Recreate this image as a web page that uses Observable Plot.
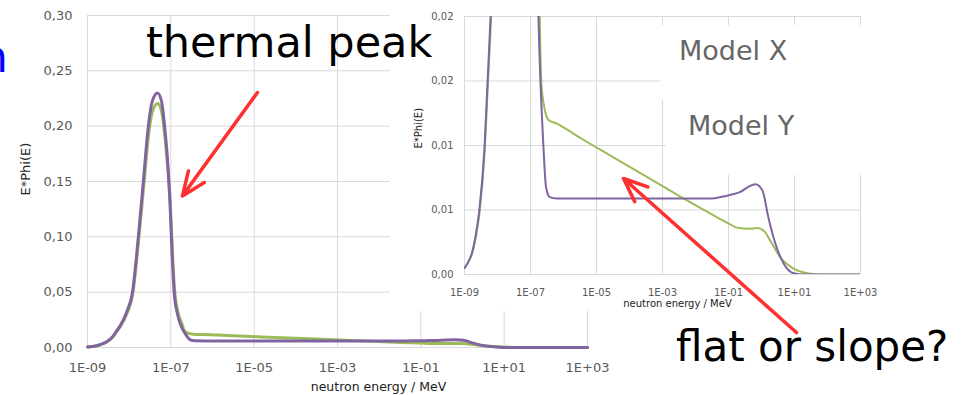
<!DOCTYPE html>
<html>
<head>
<meta charset="utf-8">
<script src="https://cdn.jsdelivr.net/npm/d3@7"></script>
<script src="https://cdn.jsdelivr.net/npm/@observablehq/plot@0.6"></script>
<style>
  html, body { margin: 0; padding: 0; background: #fff; }
  #wrap { position: relative; width: 963px; height: 395px; overflow: hidden; font-family: "DejaVu Sans", sans-serif; background: #fff; }
  #wrap > * { position: absolute; }
  #wrap svg { max-width: none; }
</style>
</head>
<body>
<div id="wrap"></div>
<script>
// ---- axis ticks and labels ----
const xTicks = [1e-9, 1e-7, 1e-5, 1e-3, 1e-1, 1e1, 1e3];
const xTickLabels = ["1E-09", "1E-07", "1E-05", "1E-03", "1E-01", "1E+01", "1E+03"];
const mainYTicks = [0, 0.05, 0.10, 0.15, 0.20, 0.25, 0.30];
const mainYTickLabels = ["0,00", "0,05", "0,10", "0,15", "0,20", "0,25", "0,30"];
const insetYTicks = [0, 0.005, 0.01, 0.015, 0.02];
const insetYTickLabels = ["0,00", "0,01", "0,01", "0,02", "0,02"];
const xTitle = "neutron energy / MeV";
const yTitle = "E*Phi(E)";

// ---- series: log10(energy / MeV) and E*Phi(E) ----
const greenLogE = [-9.0,-8.9,-8.76,-8.65,-8.55,-8.39,-8.30,-8.21,-8.05,-7.92,-7.78,-7.66,-7.54,-7.45,-7.32,-7.22,-7.15,-7.08,-7.01,-6.96,-6.91,-6.83,-6.72,-6.68,-6.6,-6.52,-6.46,-6.2,-5.5,-4.5,-3.5,-2.5,-1.6,-1.03,-0.7,-0.4,-0.12,0.1,0.27,0.58,0.97,1.39,1.8,3.0];
const greenVal  = [0.0005,0.0009,0.0017,0.003,0.0047,0.0095,0.0143,0.019,0.031,0.047,0.094,0.142,0.190,0.212,0.2205,0.213,0.193,0.165,0.128,0.085,0.052,0.032,0.020,0.0152,0.0132,0.0123,0.0120,0.0117,0.0106,0.0091,0.0076,0.0061,0.0048,0.0040,0.0036,0.00355,0.0036,0.0033,0.0026,0.0013,0.00046,0.0001,0,0];
const purpleLogE = [-9.0,-8.9,-8.76,-8.65,-8.55,-8.39,-8.30,-8.21,-8.05,-7.92,-7.78,-7.66,-7.54,-7.45,-7.32,-7.22,-7.15,-7.08,-7.02,-6.97,-6.92,-6.84,-6.76,-6.61,-6.53,-6.42,-6.2,-4.0,-2.0,-1.5,-1.24,-0.9,-0.64,-0.4,-0.18,0.03,0.21,0.42,0.67,0.97,1.3,3.0];
const purpleVal  = [0.0005,0.0009,0.0018,0.0032,0.005,0.010,0.015,0.020,0.033,0.050,0.100,0.150,0.200,0.222,0.230,0.222,0.200,0.170,0.130,0.085,0.050,0.030,0.020,0.010,0.0068,0.0060,0.0059,0.0059,0.0059,0.0059,0.0060,0.0062,0.0064,0.0068,0.0070,0.0065,0.0044,0.0024,0.00085,0.0001,0,0];

// ---- annotations ----
const annotationTexts = ["thermal peak", "flat or slope?", "Model X", "Model Y", "n"];
const thermalArrow = [{x1: 1.2e-5, y1: 0.2304, x2: 1.9e-7, y2: 0.137}];
const slopeArrow = [{x1: 11.5, y1: -0.0045, x2: 6.6e-5, y2: 0.00744}];

// ---- build tables ----
const green = greenLogE.map((e, i) => ({E: Math.pow(10, e), v: greenVal[i]}));
const purple = purpleLogE.map((e, i) => ({E: Math.pow(10, e), v: purpleVal[i]}));
const xLab = new Map(xTicks.map((t, i) => [t, xTickLabels[i]]));
const mainYLab = new Map(mainYTicks.map((t, i) => [t, mainYTickLabels[i]]));
const insetYLab = new Map(insetYTicks.map((t, i) => [t, insetYTickLabels[i]]));

const GREEN = "#9bbb59", PURPLE = "#8064a2", GRID = "#d9d9d9", TICK = "#595959", RED = "#ff3030";
const wrap = document.getElementById("wrap");

// ---- main chart ----
const main = Plot.plot({
  width: 963, height: 395,
  marginLeft: 87, marginRight: 376, marginTop: 15, marginBottom: 48,
  x: {type: "log", domain: [1e-9, 1e3]},
  y: {domain: [0, 0.30]},
  style: {fontFamily: "DejaVu Sans", fontSize: "13px", color: TICK, background: "transparent", overflow: "visible"},
  marks: [
    Plot.gridY(mainYTicks, {stroke: GRID, strokeOpacity: 1, strokeWidth: 1}),
    Plot.gridX(xTicks, {stroke: GRID, strokeOpacity: 1, strokeWidth: 1}),
    Plot.axisY(mainYTicks, {tickSize: 0, tickPadding: 15, tickFormat: d => mainYLab.get(d), label: null, fill: TICK, fontSize: 13}),
    Plot.axisX(xTicks, {tickSize: 0, tickPadding: 15, tickFormat: d => xLab.get(d), label: null, fill: TICK, fontSize: 13}),
    Plot.line(green, {x: "E", y: "v", stroke: GREEN, strokeWidth: 3, curve: "monotone-x"}),
    Plot.line(purple, {x: "E", y: "v", stroke: PURPLE, strokeWidth: 3, curve: "monotone-x"}),
    Plot.text([yTitle], {text: d => d, frameAnchor: "left", rotate: -90, dx: -62, dy: 14, fontSize: 13, fill: "#222"}),
    Plot.text([xTitle], {text: d => d, frameAnchor: "bottom", lineAnchor: "middle", dx: 41, dy: 39, fontSize: 12.5, fill: "#222"}),
    Plot.arrow(thermalArrow, {x1: "x1", y1: "y1", x2: "x2", y2: "y2", stroke: RED, strokeWidth: 3.5, headLength: 11, headAngle: 45})
  ]
});
main.style.left = "0px"; main.style.top = "0px"; main.style.background = "transparent";
wrap.appendChild(main);

// ---- inset white backing ----
const back = document.createElement("div");
Object.assign(back.style, {left: "390px", top: "0px", width: "485px", height: "311px", background: "#fff"});
wrap.appendChild(back);

// ---- inset chart ----
const inset = Plot.plot({
  width: 573, height: 395,
  marginLeft: 74, marginRight: 103, marginTop: 16, marginBottom: 121,
  x: {type: "log", domain: [1e-9, 1e3]},
  y: {domain: [0, 0.02]},
  style: {fontFamily: "DejaVu Sans", fontSize: "10px", color: TICK, background: "transparent", overflow: "visible"},
  marks: [
    Plot.gridY(insetYTicks, {stroke: GRID, strokeOpacity: 1, strokeWidth: 1}),
    Plot.gridX(xTicks, {stroke: GRID, strokeOpacity: 1, strokeWidth: 1}),
    Plot.axisY(insetYTicks, {tickSize: 0, tickPadding: 11, tickFormat: d => insetYLab.get(d), label: null, fill: TICK, fontSize: 10}),
    Plot.axisX(xTicks, {tickSize: 0, tickPadding: 14, tickFormat: d => xLab.get(d), label: null, fill: TICK, fontSize: 10}),
    Plot.line(green, {x: "E", y: "v", stroke: GREEN, strokeWidth: 2, curve: "monotone-x", clip: true}),
    Plot.line(purple, {x: "E", y: "v", stroke: PURPLE, strokeWidth: 2, curve: "monotone-x", clip: true}),
    Plot.text([yTitle], {text: d => d, frameAnchor: "left", rotate: -90, dx: -46, dy: 3, fontSize: 10, fill: "#222"}),
    Plot.text([xTitle], {text: d => d, frameAnchor: "bottom", lineAnchor: "middle", dx: 15, dy: 29, fontSize: 10, fill: "#222"}),
    Plot.arrow(slopeArrow, {x1: "x1", y1: "y1", x2: "x2", y2: "y2", stroke: RED, strokeWidth: 3.5, headLength: 11, headAngle: 45})
  ]
});
inset.style.left = "390px"; inset.style.top = "0px"; inset.style.background = "transparent";
wrap.appendChild(inset);

// ---- label boxes (white) ----
[[660, 25, 212, 75], [666, 100, 206, 75]].forEach(([l, t, w, h]) => {
  const b = document.createElement("div");
  Object.assign(b.style, {left: l + "px", top: t + "px", width: w + "px", height: h + "px", background: "#fff"});
  wrap.appendChild(b);
});

// ---- text overlay ----
const ov = d3.select(wrap).append("svg")
  .attr("width", 963).attr("height", 395)
  .style("left", "0px").style("top", "0px").style("pointer-events", "none")
  .style("font-family", "'DejaVu Sans', sans-serif");
const textSpecs = [
  {t: annotationTexts[0], x: 146, y: 57, size: 43, fill: "#000"},
  {t: annotationTexts[1], x: 676, y: 361, size: 42, fill: "#000"},
  {t: annotationTexts[2], x: 679, y: 60, size: 27, fill: "#666"},
  {t: annotationTexts[3], x: 688, y: 135, size: 27, fill: "#666"},
  {t: annotationTexts[4], x: -20, y: 72, size: 44, fill: "#0000ff"}
];
ov.selectAll("text").data(textSpecs).join("text")
  .attr("x", d => d.x).attr("y", d => d.y)
  .attr("font-size", d => d.size).attr("fill", d => d.fill)
  .text(d => d.t);
</script>
</body>
</html>
